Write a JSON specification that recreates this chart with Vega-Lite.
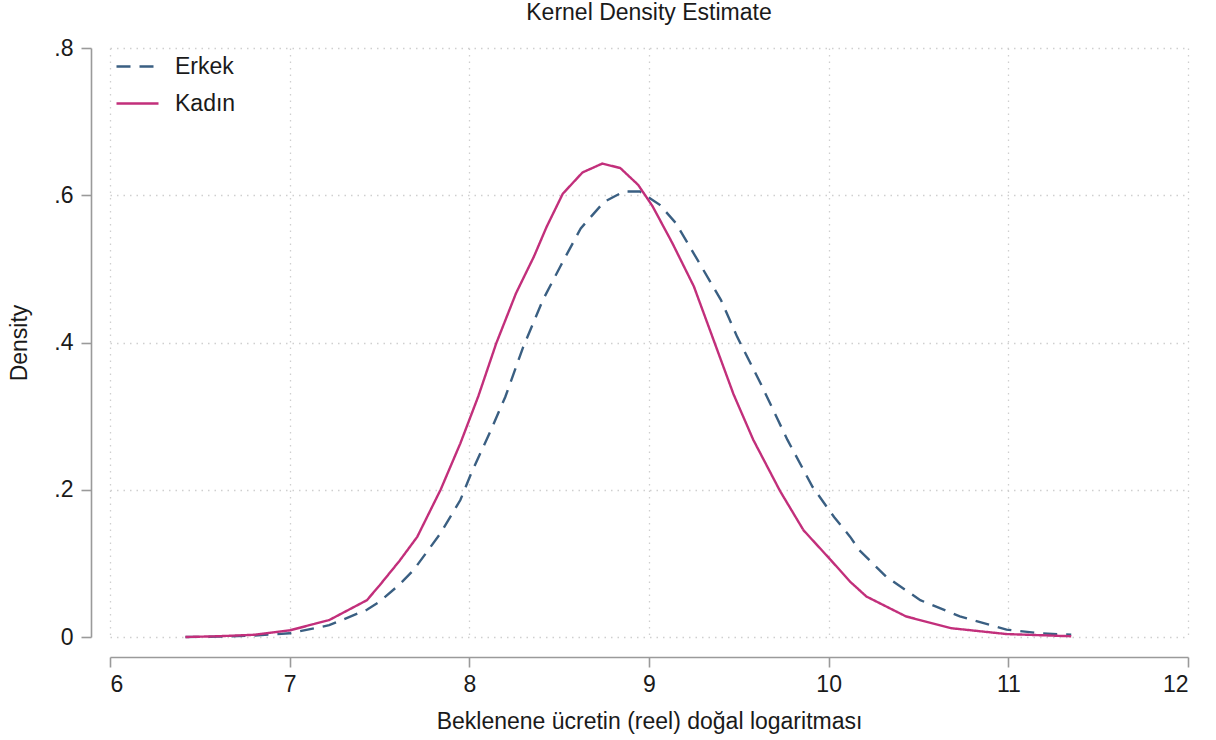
{
  "$schema": "https://vega.github.io/schema/vega-lite/v6.json",
  "width": 1078,
  "height": 589,
  "autosize": {"type": "none"},
  "padding": {"left": 110, "top": 48, "right": 28, "bottom": 103},
  "background": "white",
  "config": {
    "view": {"stroke": null},
    "font": "Liberation Sans",
    "axis": {
      "labelFont": "Liberation Sans",
      "titleFont": "Liberation Sans",
      "labelFontSize": 23,
      "titleFontSize": 23,
      "titleFontWeight": "normal",
      "labelColor": "#1a1a1a",
      "titleColor": "#1a1a1a",
      "domainColor": "#9a9a9a",
      "domainWidth": 1.6,
      "tickColor": "#9a9a9a",
      "tickWidth": 1.6,
      "tickSize": 10,
      "gridColor": "#cfcfcf",
      "gridDash": [1.5, 5],
      "gridWidth": 1.3
    }
  },
  "title": {
    "text": "Kernel Density Estimate",
    "font": "Liberation Sans",
    "fontSize": 23,
    "fontWeight": "normal",
    "color": "#1a1a1a",
    "anchor": "middle",
    "offset": 12
  },
  "data": {
    "values": [
      {"x": 6.42, "y": 0.000, "g": "Erkek"},
      {"x": 6.60, "y": 0.0005, "g": "Erkek"},
      {"x": 6.80, "y": 0.002, "g": "Erkek"},
      {"x": 7.00, "y": 0.005, "g": "Erkek"},
      {"x": 7.22, "y": 0.016, "g": "Erkek"},
      {"x": 7.43, "y": 0.037, "g": "Erkek"},
      {"x": 7.50, "y": 0.048, "g": "Erkek"},
      {"x": 7.61, "y": 0.071, "g": "Erkek"},
      {"x": 7.69, "y": 0.091, "g": "Erkek"},
      {"x": 7.84, "y": 0.141, "g": "Erkek"},
      {"x": 7.95, "y": 0.186, "g": "Erkek"},
      {"x": 8.01, "y": 0.222, "g": "Erkek"},
      {"x": 8.12, "y": 0.281, "g": "Erkek"},
      {"x": 8.20, "y": 0.326, "g": "Erkek"},
      {"x": 8.30, "y": 0.394, "g": "Erkek"},
      {"x": 8.41, "y": 0.458, "g": "Erkek"},
      {"x": 8.51, "y": 0.505, "g": "Erkek"},
      {"x": 8.62, "y": 0.555, "g": "Erkek"},
      {"x": 8.75, "y": 0.591, "g": "Erkek"},
      {"x": 8.86, "y": 0.605, "g": "Erkek"},
      {"x": 8.95, "y": 0.605, "g": "Erkek"},
      {"x": 9.06, "y": 0.587, "g": "Erkek"},
      {"x": 9.15, "y": 0.562, "g": "Erkek"},
      {"x": 9.28, "y": 0.508, "g": "Erkek"},
      {"x": 9.40, "y": 0.458, "g": "Erkek"},
      {"x": 9.49, "y": 0.408, "g": "Erkek"},
      {"x": 9.62, "y": 0.345, "g": "Erkek"},
      {"x": 9.77, "y": 0.268, "g": "Erkek"},
      {"x": 9.91, "y": 0.204, "g": "Erkek"},
      {"x": 10.03, "y": 0.163, "g": "Erkek"},
      {"x": 10.12, "y": 0.136, "g": "Erkek"},
      {"x": 10.17, "y": 0.118, "g": "Erkek"},
      {"x": 10.32, "y": 0.082, "g": "Erkek"},
      {"x": 10.51, "y": 0.050, "g": "Erkek"},
      {"x": 10.73, "y": 0.028, "g": "Erkek"},
      {"x": 10.99, "y": 0.010, "g": "Erkek"},
      {"x": 11.18, "y": 0.005, "g": "Erkek"},
      {"x": 11.35, "y": 0.003, "g": "Erkek"},
      {"x": 6.42, "y": 0.000, "g": "Kadın"},
      {"x": 6.60, "y": 0.001, "g": "Kadın"},
      {"x": 6.80, "y": 0.003, "g": "Kadın"},
      {"x": 7.00, "y": 0.009, "g": "Kadın"},
      {"x": 7.22, "y": 0.023, "g": "Kadın"},
      {"x": 7.43, "y": 0.050, "g": "Kadın"},
      {"x": 7.50, "y": 0.070, "g": "Kadın"},
      {"x": 7.61, "y": 0.103, "g": "Kadın"},
      {"x": 7.71, "y": 0.136, "g": "Kadın"},
      {"x": 7.84, "y": 0.200, "g": "Kadın"},
      {"x": 7.95, "y": 0.263, "g": "Kadın"},
      {"x": 8.05, "y": 0.327, "g": "Kadın"},
      {"x": 8.15, "y": 0.399, "g": "Kadın"},
      {"x": 8.26, "y": 0.467, "g": "Kadın"},
      {"x": 8.36, "y": 0.517, "g": "Kadın"},
      {"x": 8.43, "y": 0.557, "g": "Kadın"},
      {"x": 8.52, "y": 0.602, "g": "Kadın"},
      {"x": 8.63, "y": 0.631, "g": "Kadın"},
      {"x": 8.74, "y": 0.643, "g": "Kadın"},
      {"x": 8.84, "y": 0.637, "g": "Kadın"},
      {"x": 8.94, "y": 0.614, "g": "Kadın"},
      {"x": 9.02, "y": 0.585, "g": "Kadın"},
      {"x": 9.13, "y": 0.535, "g": "Kadın"},
      {"x": 9.25, "y": 0.476, "g": "Kadın"},
      {"x": 9.36, "y": 0.403, "g": "Kadın"},
      {"x": 9.47, "y": 0.330, "g": "Kadın"},
      {"x": 9.58, "y": 0.268, "g": "Kadın"},
      {"x": 9.73, "y": 0.198, "g": "Kadın"},
      {"x": 9.86, "y": 0.145, "g": "Kadın"},
      {"x": 10.01, "y": 0.105, "g": "Kadın"},
      {"x": 10.12, "y": 0.075, "g": "Kadın"},
      {"x": 10.21, "y": 0.055, "g": "Kadın"},
      {"x": 10.43, "y": 0.028, "g": "Kadın"},
      {"x": 10.68, "y": 0.012, "g": "Kadın"},
      {"x": 10.99, "y": 0.004, "g": "Kadın"},
      {"x": 11.35, "y": 0.001, "g": "Kadın"}
    ]
  },
  "mark": {"type": "line", "strokeWidth": 2.4, "interpolate": "linear"},
  "encoding": {
    "x": {
      "field": "x",
      "type": "quantitative",
      "scale": {"domain": [6, 12], "nice": false, "zero": false},
      "axis": {
        "values": [6, 7, 8, 9, 10, 11, 12],
        "offset": 20,
        "labelPadding": 6,
        "titlePadding": 14,
        "title": "Beklenene ücretin (reel) doğal logaritması",
        "format": "d"
      }
    },
    "y": {
      "field": "y",
      "type": "quantitative",
      "scale": {"domain": [0, 0.8], "nice": false},
      "axis": {
        "values": [0, 0.2, 0.4, 0.6, 0.8],
        "offset": 19,
        "labelPadding": 8,
        "labelAngle": 0,
        "titlePadding": 22,
        "title": "Density",
        "labelExpr": "datum.value == 0 ? '0' : replace(format(datum.value, '.1f'), '0.', '.')"
      }
    },
    "color": {
      "field": "g",
      "type": "nominal",
      "scale": {"domain": ["Erkek", "Kadın"], "range": ["#3a5f82", "#c22f7b"]},
      "legend": {
        "title": null,
        "orient": "none",
        "legendX": 5,
        "legendY": -4,
        "symbolType": "stroke",
        "symbolSize": 1764,
        "symbolStrokeWidth": 2.4,
        "labelFontSize": 23,
        "labelFont": "Liberation Sans",
        "labelColor": "#1a1a1a",
        "labelOffset": 15,
        "rowPadding": 2,
        "padding": 0
      }
    },
    "strokeDash": {
      "field": "g",
      "type": "nominal",
      "scale": {"domain": ["Erkek", "Kadın"], "range": [[14, 9], [1, 0]]},
      "legend": {
        "title": null,
        "orient": "none",
        "legendX": 5,
        "legendY": -4,
        "symbolType": "stroke",
        "symbolSize": 1764,
        "symbolStrokeWidth": 2.4,
        "labelFontSize": 23,
        "labelFont": "Liberation Sans",
        "labelColor": "#1a1a1a",
        "labelOffset": 15,
        "rowPadding": 2,
        "padding": 0
      }
    }
  }
}
